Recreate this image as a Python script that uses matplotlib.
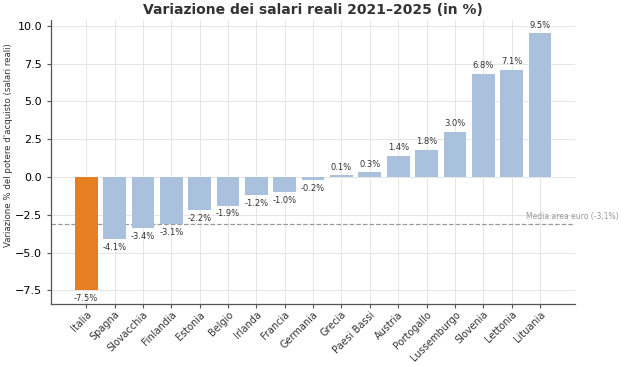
import matplotlib
matplotlib.use("Agg")
from matplotlib import pyplot as plt
import numpy as np

paesi = ["Italia", "Spagna", "Slovacchia", "Finlandia", "Estonia", "Belgio", "Irlanda",
         "Francia", "Germania", "Grecia", "Paesi Bassi", "Austria", "Portogallo",
         "Lussemburgo", "Slovenia", "Lettonia", "Lituania"]
variazione = [-7.5, -4.1, -3.4, -3.1, -2.2, -1.9, -1.2, -1.0, -0.2, 0.1, 0.3, 1.4, 1.8,
              3.0, 6.8, 7.1, 9.5]
media_euro = -3.1

colori = ["#e67e22" if p == "Italia" else "#aac1dd" for p in paesi]

fig = plt.figure(figsize=(6.3, 3.67), dpi=100)
ax = fig.add_axes([0.081, 0.172, 0.832, 0.774])

x = np.arange(len(paesi))
ax.bar(x, variazione, color=colori, width=0.8, zorder=2)
ax.grid(True, color="#e6e6e6", linewidth=0.7, zorder=0)
ax.set_axisbelow(True)

for xi, v in zip(x, variazione):
    if v >= 0:
        ax.text(xi, v + 0.25, f"{v:.1f}%", ha="center", va="bottom", fontsize=6, color="#333333")
    else:
        ax.text(xi, v - 0.25, f"{v:.1f}%", ha="center", va="top", fontsize=6, color="#333333")

ax.axhline(media_euro, color="#999999", linestyle="--", linewidth=0.9, zorder=1)
ax.text(15.5, media_euro + 0.2, "Media area euro (-3,1%)", fontsize=5.5, color="#999999",
        ha="left", va="bottom", clip_on=False)

ax.set_xticks(x)
ax.set_xticklabels(paesi, rotation=45, ha="right", rotation_mode="anchor", fontsize=7, color="#333333")
ax.tick_params(axis="x", length=3, color="#555555", pad=1)
ax.tick_params(axis="y", labelsize=8, length=3, color="#555555")
ax.set_ylim(-8.4, 10.4)
ax.set_yticks([-7.5, -5.0, -2.5, 0.0, 2.5, 5.0, 7.5, 10.0])

ax.set_ylabel("Variazione % del potere d'acquisto (salari reali)", fontsize=6.2, color="#333333")
ax.yaxis.set_label_coords(-0.072, 0.56)
ax.set_title("Variazione dei salari reali 2021–2025 (in %)", fontsize=10, fontweight="bold",
             color="#333333", pad=4)

for s in ["top", "right"]:
    ax.spines[s].set_visible(False)
for s in ["left", "bottom"]:
    ax.spines[s].set_color("#555555")
    ax.spines[s].set_linewidth(0.9)

fig.savefig("out.png", dpi=100)
